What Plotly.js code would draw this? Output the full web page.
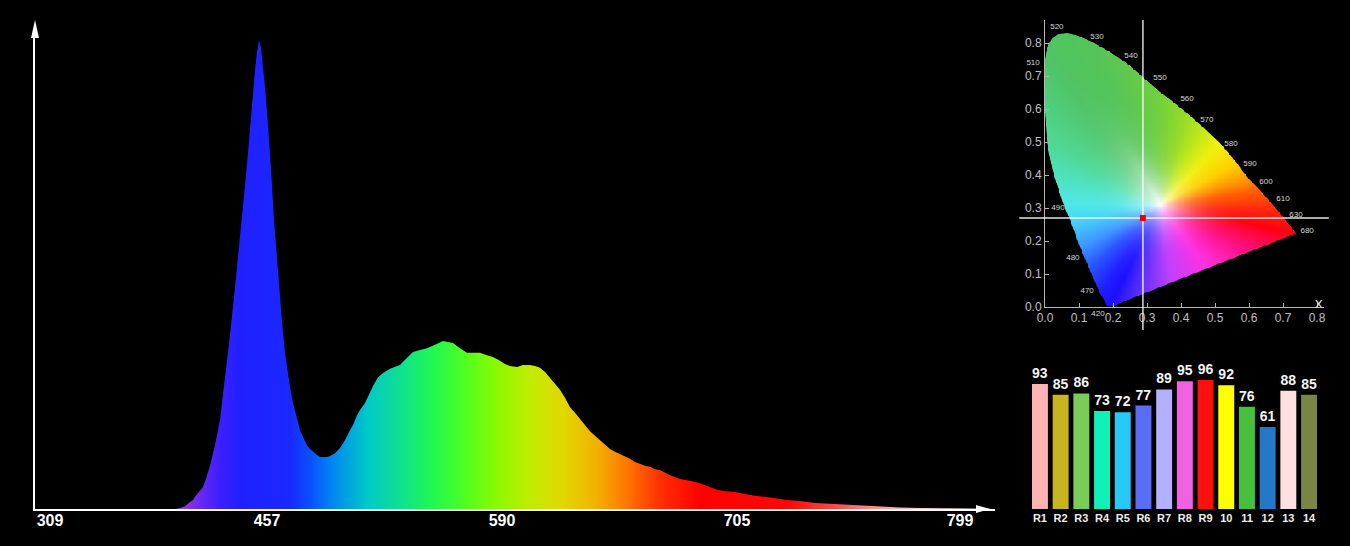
<!DOCTYPE html>
<html><head><meta charset="utf-8">
<script src="https://cdn.plot.ly/plotly-3.0.1.min.js"></script>
<style>html,body{margin:0;padding:0;background:#000;overflow:hidden}#chart{width:1350px;height:546px}</style>
</head><body><div id="chart"></div>
<script>
// ================= DATA =================
// Spectrum (relative intensity, peak = 100) against detector channel
const spectrumTickLabels = ['309','457','590','705','799'];
const spectrumTickChannels = [15,232,467,702,925];
const channel = [0,140,145,150,155,158,160,165,168,170,
175,178,180,185,190,193,195,200,205,207,
210,213,215,218,220,222,224,226,228,230,
233,235,237,239,242,244,247,250,253,255,
258,262,265,268,272,275,278,282,285,288,
292,295,300,305,310,315,318,322,325,330,
335,338,343,348,355,360,365,370,375,378,
385,392,400,408,413,418,425,432,438,445,
452,458,465,470,475,482,488,495,500,505,
510,515,520,525,530,535,540,545,550,555,
560,565,570,575,580,585,590,595,600,605,
610,615,620,625,630,635,640,645,655,665,
675,682,690,700,710,720,730,740,752,765,
780,795,815,835,850,865,885,915,935,955];
const intensity = [0,0,0.2,0.6,1.5,1.9,2.6,4.05,4.7,5.8,
9.2,11.9,13.6,19.0,27.5,33.3,37.1,47.3,57.4,61.6,
68.9,75.9,81.4,90.0,93.6,97.4,100,98.3,94.0,90.0,
81.9,75.9,68.9,61.6,53.1,47.3,39.9,33.3,28.6,26.0,
22.6,19.0,16.8,15.4,13.6,12.8,12.2,11.5,11.1,11.1,
11.1,11.3,11.9,13.0,14.7,16.8,17.9,20.0,21.1,22.6,
24.9,26.2,28.1,29.0,29.9,30.3,30.7,31.8,33.0,33.5,
33.9,34.3,35.0,35.8,35.6,35.4,34.3,33.3,33.3,33.3,
32.8,32.4,31.6,30.9,30.5,30.3,30.7,30.7,30.5,30.1,
29.2,27.9,26.7,25.4,23.7,21.7,20.5,19.2,17.9,16.6,
15.6,14.7,13.6,12.8,12.2,11.7,11.3,10.7,10.0,9.6,
9.2,9.0,8.5,8.3,7.7,7.2,6.8,6.4,6.0,5.5,
4.7,4.1,3.8,3.6,3.2,2.8,2.6,2.3,1.9,1.7,
1.3,1.1,0.85,0.64,0.43,0.32,0.21,0.15,0.1,0.05];

// Chromaticity point of the source
const cieX = 0.288;
const cieY = 0.270;

// Horseshoe outline as drawn in the picture, with its edge colours
const locusX = [0.191,0.182,0.162,0.132,0.103,0.074,0.053,0.022,0.006,0.0,0.0,0.0,0.006,0.021,0.038,0.065,0.094,0.141,0.191,0.241,0.288,0.338,0.368,0.418,0.465,0.515,0.565,0.579,0.603,0.632,0.691,0.738,0.60,0.48,0.37,0.28];
const locusY = [0.0,0.006,0.042,0.112,0.182,0.264,0.315,0.415,0.497,0.597,0.688,0.748,0.789,0.815,0.827,0.830,0.824,0.803,0.773,0.739,0.697,0.652,0.629,0.588,0.545,0.497,0.436,0.415,0.385,0.355,0.285,0.224,0.168,0.119,0.074,0.037];
const locusColor = ['#1a10ff','#1c12ff','#2020ff','#2850ff','#3c98ff','#48d8f4','#50e8e4','#50e0b8','#50d898','#50d080','#50c870','#50c46a','#50c464','#50c460','#50c45e','#50c45c','#52c45a','#56c458','#5ac654','#60c84c','#68cc44','#74d03c','#80d434','#98dc28','#c0e818','#f0f010','#ffd000','#ffb800','#ff9000','#ff6000','#ff2010','#ff0010','#ff1080','#ff30e0','#c040ff','#6030ff'];

// Wavelength labels around the locus
const locusLabel  = ['520','530','540','550','510','560','570','580','590','600','610','630','680','490','480','470','420'];
const locusLabelX = [0.035,0.153,0.253,0.338,-0.035,0.418,0.476,0.547,0.603,0.650,0.700,0.738,0.771,0.038,0.082,0.124,0.156];
const locusLabelY = [0.848,0.818,0.761,0.694,0.739,0.630,0.567,0.494,0.433,0.379,0.327,0.279,0.230,0.300,0.148,0.048,-0.021];
const cieTicks = [0,0.1,0.2,0.3,0.4,0.5,0.6,0.7,0.8];
const cieTickText = ['0.0','0.1','0.2','0.3','0.4','0.5','0.6','0.7','0.8'];

// Colour rendering indices
const criNames  = ['R1','R2','R3','R4','R5','R6','R7','R8','R9','10','11','12','13','14'];
const criValues = [93,85,86,73,72,77,89,95,96,92,76,61,88,85];
const criColors = ['#ffb3b3','#c8b41e','#7acc5a','#10f0b8','#28c8f8','#5a6ef5','#b4b0ff','#f062e0','#ff1010','#ffff00','#44c03c','#2478c8','#ffe0e0','#7a8444'];

// ================= LAYOUT HELPERS =================
const W = 1350, H = 546;
const PX = x => x / W;
const PY = y => 1 - y / H;
const FONT = 'Liberation Sans, Arial, Helvetica, sans-serif';

// main plot geometry (pixels)
const M_LEFT = 35, M_RIGHT = 995, M_BASE = 509, M_TOP = 30, M_PEAKPX = 40;
const mainYMax = 100 * (M_BASE - M_TOP) / (M_BASE - M_PEAKPX);

// CIE geometry
const C_X0 = 1045, C_Y0 = 307, C_SX = 340, C_SY = 330;
const cieXR = [0, 0.82], cieYR = [0, 0.87];
const crossXR = [-0.076, 0.835], crossYR = [-0.07, 0.87];

// bars geometry
const B_LEFT = 1029.6, B_RIGHT = 1319.4, B_BASE = 509, B_SCALE = 1.344;

// ================= CIE COLOUR FIELD =================
const hexToRgb = h => [parseInt(h.slice(1,3),16), parseInt(h.slice(3,5),16), parseInt(h.slice(5,7),16)];
const edgeRGB = locusColor.map(hexToRgb);
const WX = 0.34, WY = 0.31;
const PIX = 0.0025;
function fieldColor(px, py) {
  const dx = px - WX, dy = py - WY;
  const L = Math.hypot(dx, dy);
  if (L < 1e-9) return [255,255,255,1];
  const n = locusX.length;
  for (let i = 0; i < n; i++) {
    const j = (i + 1) % n;
    const ax = locusX[i], ay = locusY[i];
    const ex = locusX[j] - ax, ey = locusY[j] - ay;
    const den = dx * ey - dy * ex;
    if (Math.abs(den) < 1e-14) continue;
    const wx = ax - WX, wy = ay - WY;
    const t = (wx * ey - wy * ex) / den;
    const u = (wx * dy - wy * dx) / den;
    if (t > 0 && u >= -1e-9 && u <= 1 + 1e-9) {
      const r = Math.min(1, 1 / t);
      const f = 1 - Math.pow(1 - r, 4.2);
      const alpha = Math.max(0, Math.min(1, L * (t - 1) / PIX + 0.5));
      if (alpha <= 0) return [0,0,0,0];
      const c = [0,1,2].map(k => edgeRGB[i][k] + (edgeRGB[j][k] - edgeRGB[i][k]) * u);
      return [255 + (c[0]-255)*f, 255 + (c[1]-255)*f, 255 + (c[2]-255)*f, alpha];
    }
  }
  return [0,0,0,0];
}
const NX = 302, NY = 336;
const field = [];
for (let j = 0; j < NY; j++) {
  const row = [];
  const yy = PIX/2 + j * PIX;
  for (let i = 0; i < NX; i++) row.push(fieldColor(PIX/2 + i * PIX, yy));
  field.push(row);
}

// ================= TRACES =================
const spectrumScale = [
  [0,'#9a50e0'],[0.151,'#8a40e0'],[0.172,'#6a28f0'],[0.193,'#3a20ff'],[0.2135,'#2020ff'],
  [0.2656,'#1a28ff'],[0.2865,'#0a50ff'],[0.3104,'#0088f0'],[0.3458,'#00c8c8'],[0.3802,'#10e090'],
  [0.4146,'#20f850'],[0.4479,'#50ff20'],[0.4844,'#90f800'],[0.5156,'#c0ec00'],[0.55,'#e0d800'],
  [0.5854,'#f2b000'],[0.6198,'#ff7000'],[0.651,'#ff3000'],[0.6927,'#ff0000'],[0.7865,'#ff0808'],
  [0.8385,'#ff5050'],[0.8802,'#ff9898'],[0.9219,'#ffc8c8'],[0.9635,'#ffe8e8'],[1,'#ffffff']
];

const traces = [
  {
    type: 'scatter', mode: 'lines', x: channel, y: intensity,
    line: {width: 0, color: 'rgba(0,0,0,0)'},
    fill: 'tozeroy',
    fillgradient: {type: 'horizontal', start: 0, stop: M_RIGHT - M_LEFT, colorscale: spectrumScale},
    hoverinfo: 'skip', xaxis: 'x', yaxis: 'y'
  },
  {
    type: 'image', z: field, colormodel: 'rgba', zmin: [0,0,0,0], zmax: [255,255,255,1],
    x0: PIX/2, dx: PIX, y0: PIX/2, dy: PIX,
    xaxis: 'x2', yaxis: 'y2', hoverinfo: 'skip'
  },
  {
    type: 'scatter', mode: 'text', x: locusLabelX, y: locusLabelY, text: locusLabel,
    textfont: {family: FONT, size: 8, color: '#d8d8d8'}, cliponaxis: false,
    xaxis: 'x3', yaxis: 'y3', hoverinfo: 'skip'
  },
  {
    type: 'scatter', mode: 'lines', x: [cieX, cieX], y: crossYR,
    line: {color: 'rgba(255,255,255,0.85)', width: 1.5}, xaxis: 'x3', yaxis: 'y3', hoverinfo: 'skip'
  },
  {
    type: 'scatter', mode: 'lines', x: crossXR, y: [cieY, cieY],
    line: {color: 'rgba(255,255,255,0.9)', width: 1.5}, xaxis: 'x3', yaxis: 'y3', hoverinfo: 'skip'
  },
  {
    type: 'scatter', mode: 'markers', x: [cieX], y: [cieY],
    marker: {symbol: 'square', size: 6, color: '#ee0000'}, xaxis: 'x3', yaxis: 'y3', hoverinfo: 'skip'
  },
  {
    type: 'bar', x: criNames, y: criValues, marker: {color: criColors, line: {width: 0}},
    text: criValues.map(String), textposition: 'outside', constraintext: 'none', cliponaxis: false,
    textfont: {family: FONT, size: 14, color: '#f4f4f4', weight: 'bold'},
    xaxis: 'x4', yaxis: 'y4', hoverinfo: 'skip'
  }
];

const hidden = {showgrid: false, zeroline: false, showticklabels: false, ticks: '', showline: false};

const layout = {
  width: W, height: H,
  margin: {l: 0, r: 0, t: 0, b: 0, pad: 0},
  paper_bgcolor: '#000', plot_bgcolor: 'rgba(0,0,0,0)',
  showlegend: false, bargap: 0.23,
  font: {family: FONT, color: '#ffffff'},
  xaxis: {
    domain: [PX(M_LEFT), PX(M_RIGHT)], range: [0, M_RIGHT - M_LEFT], anchor: 'y',
    showgrid: false, zeroline: false, ticks: '',
    showline: true, linecolor: '#ffffff', linewidth: 2,
    tickmode: 'array', tickvals: spectrumTickChannels, ticktext: spectrumTickLabels,
    ticklabelstandoff: -4,
    tickfont: {family: FONT, size: 16, color: '#ffffff', weight: 'bold'}
  },
  yaxis: Object.assign({}, hidden, {
    domain: [PY(M_BASE), PY(M_TOP)], range: [0, mainYMax], anchor: 'x',
    showline: true, linecolor: '#ffffff', linewidth: 2
  }),
  xaxis2: {
    domain: [PX(C_X0 + cieXR[0]*C_SX), PX(C_X0 + cieXR[1]*C_SX)], range: cieXR, anchor: 'y2',
    showgrid: false, zeroline: false, showline: true, linecolor: '#b4b4b4', linewidth: 1,
    ticks: 'inside', ticklen: 4, tickwidth: 1, tickcolor: '#b4b4b4',
    tickmode: 'array', tickvals: cieTicks, ticktext: cieTickText,
    tickfont: {family: FONT, size: 12, color: '#c0c0c0'}
  },
  yaxis2: {
    domain: [PY(C_Y0 - cieYR[0]*C_SY), PY(C_Y0 - cieYR[1]*C_SY)], range: cieYR, anchor: 'x2',
    scaleanchor: false,
    showgrid: false, zeroline: false, showline: true, linecolor: '#b4b4b4', linewidth: 1,
    ticks: 'inside', ticklen: 4, tickwidth: 1, tickcolor: '#b4b4b4',
    tickmode: 'array', tickvals: cieTicks, ticktext: cieTickText,
    tickfont: {family: FONT, size: 12, color: '#c0c0c0'}
  },
  xaxis3: Object.assign({}, hidden, {
    domain: [PX(C_X0 + crossXR[0]*C_SX), PX(C_X0 + crossXR[1]*C_SX)], range: crossXR, anchor: 'y3'
  }),
  yaxis3: Object.assign({}, hidden, {
    domain: [PY(C_Y0 - crossYR[0]*C_SY), PY(C_Y0 - crossYR[1]*C_SY)], range: crossYR, anchor: 'x3'
  }),
  xaxis4: {
    domain: [PX(B_LEFT), PX(B_RIGHT)], type: 'category', anchor: 'y4',
    showgrid: false, zeroline: false, showline: false, ticks: '',
    ticklabelstandoff: 1,
    tickfont: {family: FONT, size: 11, color: '#eeeeee', weight: 'bold'}
  },
  yaxis4: Object.assign({}, hidden, {
    domain: [PY(B_BASE), PY(B_BASE - 100*B_SCALE)], range: [0, 100], anchor: 'x4'
  }),
  shapes: [
    // arrowheads of the spectrum axes
    {type: 'path', xref: 'paper', yref: 'paper', line: {width: 0}, fillcolor: '#ffffff',
     path: `M ${PX(35)} ${PY(20)} L ${PX(39)} ${PY(38)} L ${PX(31)} ${PY(38)} Z`},
    {type: 'path', xref: 'paper', yref: 'paper', line: {width: 0}, fillcolor: '#ffffff',
     path: `M ${PX(990)} ${PY(509)} L ${PX(976)} ${PY(505)} L ${PX(976)} ${PY(513)} Z`}
  ],
  annotations: [
    {xref: 'x2', yref: 'y2', x: -0.018, y: 0.852, text: 'y', showarrow: false,
     font: {family: FONT, size: 15, color: '#dddddd'}},
    {xref: 'x2', yref: 'y2', x: 0.806, y: 0.015, text: 'x', showarrow: false,
     font: {family: FONT, size: 15, color: '#dddddd'}}
  ]
};

Plotly.newPlot('chart', traces, layout, {displayModeBar: false, staticPlot: true});
</script>
</body></html>
